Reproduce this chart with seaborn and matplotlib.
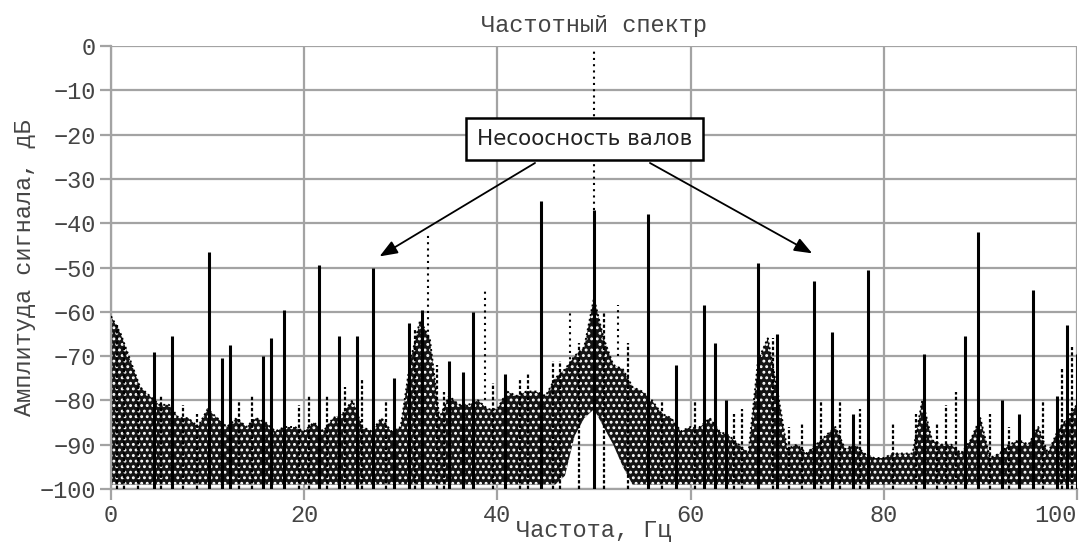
import numpy as np
import matplotlib
matplotlib.use("Agg")
import matplotlib.pyplot as plt
import seaborn as sns

# ---- data ----
floor_freq = list(range(0, 101))
floor_top = [-61, -65, -71, -77, -79, -81, -81, -84, -84, -86,
             -82, -84, -86, -84, -86, -84, -85, -87, -86, -86,
             -87, -85, -87, -84, -83, -80, -86, -87, -84, -87,
             -86, -71, -62, -66, -84, -79, -81, -81, -80, -82,
             -82, -78, -79, -78, -78, -79, -75, -73, -70, -68,
             -57, -66, -72, -73, -77, -78, -80, -83, -84, -87,
             -86, -86, -84, -87, -88, -90, -92, -71, -66, -78,
             -91, -90, -92, -90, -88, -86, -91, -90, -92, -93,
             -93, -92, -92, -92, -80, -89, -90, -90, -92, -89,
             -84, -93, -92, -90, -89, -90, -86, -92, -87, -84, -81]
floor_bottom = [-99] * 47 + [-97, -88, -84, -82, -86, -90, -95] + [-99] * 47

peak_freq = [4.4, 6.3, 10.1, 11.5, 12.3, 15.7, 16.6, 17.9, 21.5, 23.6,
             25.5, 27.1, 29.3, 30.9, 32.2, 35.0, 36.4, 37.5, 40.8, 44.5,
             50.0, 55.6, 58.5, 61.4, 62.5, 63.7, 67.0, 69.0, 72.8, 74.6,
             76.8, 78.4, 84.2, 88.4, 89.8, 92.2, 94.0, 95.5, 97.9, 99.0, 100.0]
peak_top = [-69, -65.5, -46.5, -70.5, -67.5, -70, -66, -59.5, -49.5, -65.5,
            -65.5, -50, -75, -62.5, -59.5, -71, -73.5, -60, -74, -35,
            -37, -38, -72, -58.5, -67, -80, -49, -65, -53, -64.5,
            -83, -50.5, -69.5, -65.5, -42, -80, -83, -55, -79, -63, -69.5]

dot_freq = [32.8, 38.7, 47.5, 50.0, 52.5]
dot_base = [-66, -80, -75, -37, -70]
dot_top = [-42, -55, -60, -1, -58.5]

minor_freq = [0.6, 1.3, 2.8, 5.2, 7.5, 8.9, 13.2, 14.6, 19.5, 20.5,
              22.4, 24.2, 26.0, 28.5, 31.5, 33.8, 34.5, 39.5, 42.3, 43.2,
              45.8, 46.5, 48.5, 51.0, 53.5, 57.0, 60.5, 64.5, 65.3, 68.5,
              70.2, 71.5, 73.5, 75.5, 77.5, 81.0, 83.3, 85.5, 86.5, 87.5,
              91.0, 93.0, 96.5, 98.5, 99.5]
minor_top = [-63, -68, -76, -79, -81, -83, -80, -79, -81, -79,
             -79, -77, -75, -80, -64, -72, -78, -76, -75, -74,
             -71, -71, -67, -60, -67, -80, -80, -83, -82, -66,
             -86, -85, -80, -80, -82, -85, -83, -85, -81, -78,
             -83, -86, -80, -73, -68]

title = "Частотный спектр"
xlabel = "Частота, Гц"
ylabel = "Амплитуда сигнала, дБ"
note = "Несоосность валов"
xticks = [0, 20, 40, 60, 80, 100]
yticks = [0, -10, -20, -30, -40, -50, -60, -70, -80, -90, -100]

# ---- style ----
sns.set_theme(style="whitegrid")
plt.rcParams['font.family'] = ['Liberation Mono', 'DejaVu Sans Mono']
plt.rcParams['hatch.linewidth'] = 1.3
grid_c = "#a3a3a3"
text_c = "#444444"

fig = plt.figure(figsize=(10.79, 5.44), dpi=100)
ax = fig.add_axes([0.1029, 0.1011, 0.8951, 0.8143])

ax.fill_between(floor_freq, floor_bottom, floor_top,
                facecolor="#151515", edgecolor="white", hatch="...",
                linewidth=0, zorder=2)
sns.lineplot(x=floor_freq, y=floor_top, ax=ax,
             color="black", linestyle=(0, (1, 1.5)), linewidth=1.4, zorder=3)
ax.vlines(minor_freq, -100, minor_top, color="black", linewidth=1.6,
          linestyles=(0, (1.5, 1)), zorder=3)
ax.vlines(peak_freq, -100, peak_top, color="black", linewidth=2.2, zorder=3)
ax.vlines(dot_freq, dot_base, dot_top, color="black", linewidth=1.5,
          linestyles=(0, (1, 2)), zorder=3)

ax.set_xlim(0, 100)
ax.set_ylim(-100, 0)
ax.set_xticks(xticks)
ax.set_yticks(yticks)
ax.grid(True, color=grid_c, linewidth=1.6)
for s in ax.spines.values():
    s.set_visible(False)
for side in ("left", "bottom"):
    ax.spines[side].set_visible(True)
    ax.spines[side].set_color(grid_c)
    ax.spines[side].set_linewidth(1.6)
ax.tick_params(axis="both", which="both", length=8, width=1.6, color=grid_c,
               labelsize=17, labelcolor=text_c, pad=3,
               bottom=True, left=True)
ax.get_xticklabels()[-1].set_horizontalalignment("right")
ax.set_title(title, fontsize=17, color=text_c, pad=10)
ax.set_xlabel(xlabel, fontsize=17, color=text_c, labelpad=-6)
ax.set_ylabel(ylabel, fontsize=17, color=text_c, labelpad=2)

# annotation
for sx, tx, ty in [(43.9, 27.8, -47.5), (55.8, 72.6, -46.8)]:
    ax.annotate("", xy=(tx, ty), xytext=(sx, -26.4),
                arrowprops=dict(arrowstyle="-|>,head_length=0.9,head_width=0.35",
                                color="black", linewidth=1.3,
                                shrinkA=0, shrinkB=0), zorder=5)
ax.text(49.05, -21.0, note, ha="center", va="center", fontsize=15.5,
        family="DejaVu Sans", color="#222222", zorder=6,
        bbox=dict(boxstyle="square,pad=0.5", facecolor="white",
                  edgecolor="black", linewidth=1.8))

fig.savefig("out.png", dpi=100)
